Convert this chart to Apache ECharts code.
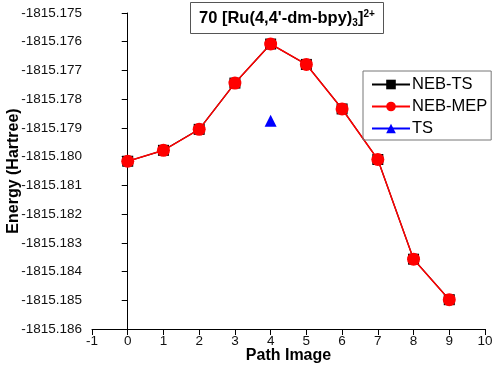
<!DOCTYPE html>
<html><head><meta charset="utf-8">
<script src="https://cdn.jsdelivr.net/npm/echarts@6/dist/echarts.min.js"></script>
<style>html,body{margin:0;padding:0;background:#fff}#c{width:496px;height:368px}</style>
</head><body><div id="c"></div>
<script>
const pathImages = [0,1,2,3,4,5,6,7,8,9];
const nebTs = [-1815.18016,-1815.17978,-1815.17905,-1815.17744,-1815.17608,-1815.17679,-1815.17834,-1815.18010,-1815.18357,-1815.18498];
const nebMep = [-1815.18016,-1815.17978,-1815.17905,-1815.17744,-1815.17608,-1815.17679,-1815.17834,-1815.18010,-1815.18357,-1815.18498];
const tsImage = [4];
const tsEnergy = [-1815.17875];
const seriesNames = ['NEB-TS','NEB-MEP','TS'];

const FONT = '"Liberation Sans", Arial, sans-serif';
const chart = echarts.init(document.getElementById('c'));
chart.setOption({
  animation: false,
  backgroundColor: '#fff',
  grid: {left: 92, right: 11, top: 13, bottom: 39, containLabel: false, outerBoundsMode: 'none'},
  title: {
    text: '{t|70 [Ru(4,4\'-dm-bpy)}{sub|3}{t|]}{sup|2+}',
    left: 190, top: 2,
    borderColor: '#555', borderWidth: 1,
    padding: [7, 9, 6, 9],
    textStyle: {
      rich: {
        t: {fontFamily: FONT, fontWeight: 'bold', fontSize: 16.5, color: '#000'},
        sub: {fontFamily: FONT, fontWeight: 'bold', fontSize: 10, color: '#000', verticalAlign: 'bottom', padding: [9,0,0,0]},
        sup: {fontFamily: FONT, fontWeight: 'bold', fontSize: 10, color: '#000', verticalAlign: 'top', padding: [0,0,9,0]}
      }
    }
  },
  legend: {
    data: seriesNames,
    orient: 'vertical',
    left: 363, top: 71,
    width: 126,
    itemWidth: 38, itemHeight: 12, itemGap: 5,
    padding: [5, 4, 3, 8],
    borderColor: '#777', borderWidth: 1,
    textStyle: {fontFamily: FONT, fontSize: 16.5, color: '#000', padding: [0,0,0,-3]}
  },
  xAxis: {
    type: 'value', min: -1, max: 10, interval: 1,
    name: 'Path Image', nameLocation: 'middle', nameGap: 19, nameMoveOverlap: false,
    nameTextStyle: {fontFamily: FONT, fontWeight: 'bold', fontSize: 16, color: '#000'},
    axisLine: {lineStyle: {color: '#000', width: 1}},
    axisTick: {length: 6, lineStyle: {color: '#000'}},
    axisLabel: {fontFamily: FONT, fontSize: 13.5, color: '#111', margin: 5},
    splitLine: {show: false}
  },
  yAxis: {
    type: 'value', min: -1815.186, max: -1815.175, interval: 0.001,
    name: 'Energy (Hartree)', nameLocation: 'middle', nameGap: 70, nameMoveOverlap: false,
    nameTextStyle: {fontFamily: FONT, fontWeight: 'bold', fontSize: 16, color: '#000'},
    axisLine: {show: true, lineStyle: {color: '#000', width: 1}},
    axisTick: {show: true, length: 6, lineStyle: {color: '#000'}},
    axisLabel: {fontFamily: FONT, fontSize: 13.5, color: '#111', margin: 10,
      formatter: v => v.toFixed(3)},
    splitLine: {show: false}
  },
  series: [
    {name: seriesNames[0], type: 'line', data: pathImages.map((x,i)=>[x, nebTs[i]]),
     symbol: 'rect', symbolSize: 11, itemStyle: {color: '#000'}, lineStyle: {color: '#000', width: 1.2}, z: 2},
    {name: seriesNames[1], type: 'line', data: pathImages.map((x,i)=>[x, nebMep[i]]),
     symbol: 'circle', symbolSize: 13, itemStyle: {color: '#f00'}, lineStyle: {color: '#f00', width: 1.5}, z: 3},
    {name: seriesNames[2], type: 'line', data: tsImage.map((x,i)=>[x, tsEnergy[i]]),
     symbol: 'triangle', symbolSize: 12, itemStyle: {color: '#00f'}, lineStyle: {color: '#00f', width: 1.2}, z: 4}
  ]
});
</script></body></html>
